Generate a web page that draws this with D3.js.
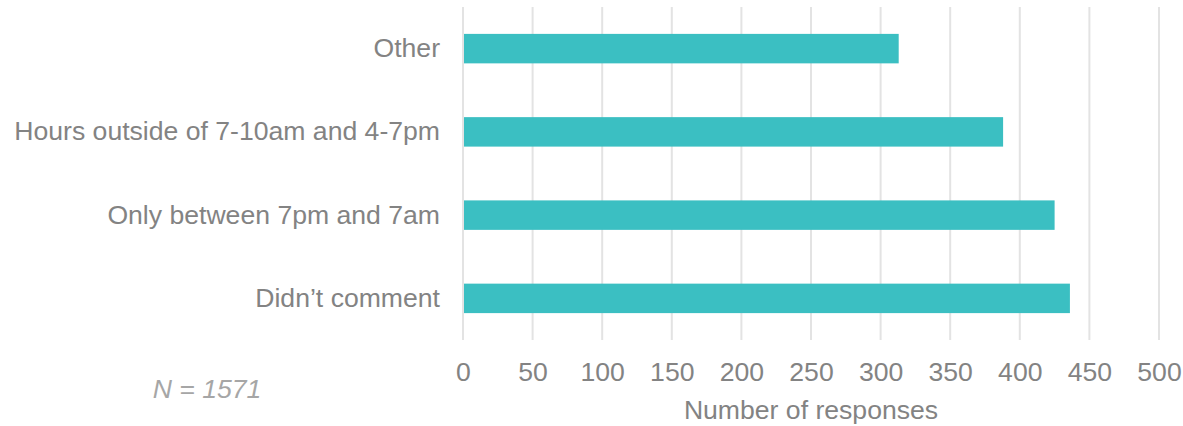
<!DOCTYPE html>
<html>
<head>
<meta charset="utf-8">
<script src="https://cdn.jsdelivr.net/npm/d3@7/dist/d3.min.js"></script>
<style>
  html, body { margin: 0; padding: 0; background: #ffffff; }
  svg { display: block; }
  text { font-family: "Liberation Sans", Arial, sans-serif; }
</style>
</head>
<body>
<div id="chart"></div>
<script>
// Responses by preferred hours (top to bottom)
const categories = ["Other", "Hours outside of 7-10am and 4-7pm", "Only between 7pm and 7am", "Didn\u2019t comment"];
const responses = [313, 388, 425, 436];
const xTicks = [0, 50, 100, 150, 200, 250, 300, 350, 400, 450, 500];
const axisTitle = "Number of responses";
const sampleNote = "N = 1571";

const width = 1183, height = 426;
const plot = { left: 463, right: 1159, top: 7, bottom: 340 };
const fontSize = "26.6px";
const textColor = "#838383";

const svg = d3.select("#chart").append("svg")
  .attr("width", width).attr("height", height);

const x = d3.scaleLinear().domain([0, 500]).range([plot.left, plot.right]);
const y = d3.scaleBand().domain(categories)
  .range([plot.top, plot.bottom])
  .paddingInner(0.646).paddingOuter(0.323);

// Vertical gridlines
svg.append("g").selectAll("line").data(xTicks).join("line")
  .attr("x1", d => x(d)).attr("x2", d => x(d))
  .attr("y1", plot.top).attr("y2", plot.bottom)
  .attr("stroke", "#e3e3e3").attr("stroke-width", 2);

// Bars
svg.append("g").selectAll("rect").data(categories).join("rect")
  .attr("x", x(0) + 1)
  .attr("y", d => y(d))
  .attr("width", (d, i) => x(responses[i]) - x(0) - 1)
  .attr("height", y.bandwidth())
  .attr("fill", "#3bbfc2");

// Category labels
const yAxis = d3.axisLeft(y).tickSize(0).tickPadding(23);
const gy = svg.append("g").attr("transform", `translate(${plot.left},0)`).call(yAxis);
gy.select(".domain").remove();
gy.selectAll("text")
  .attr("fill", textColor)
  .style("font-size", fontSize)
  .style("font-family", "'Liberation Sans', Arial, sans-serif");

// Value axis tick labels
const xAxis = d3.axisBottom(x).tickValues(xTicks).tickSize(0).tickPadding(22);
const gx = svg.append("g").attr("transform", `translate(0,${plot.bottom})`).call(xAxis);
gx.select(".domain").remove();
gx.selectAll("text")
  .attr("fill", textColor)
  .style("font-size", fontSize)
  .style("font-family", "'Liberation Sans', Arial, sans-serif");

// Axis title
svg.append("text")
  .attr("x", (plot.left + plot.right) / 2).attr("y", 419)
  .attr("text-anchor", "middle")
  .attr("fill", textColor)
  .style("font-size", fontSize)
  .text(axisTitle);

// Sample size note
svg.append("text")
  .attr("x", 207).attr("y", 398)
  .attr("text-anchor", "middle")
  .attr("fill", "#a6a6a6")
  .style("font-size", fontSize)
  .style("font-style", "italic")
  .text(sampleNote);
</script>
</body>
</html>
